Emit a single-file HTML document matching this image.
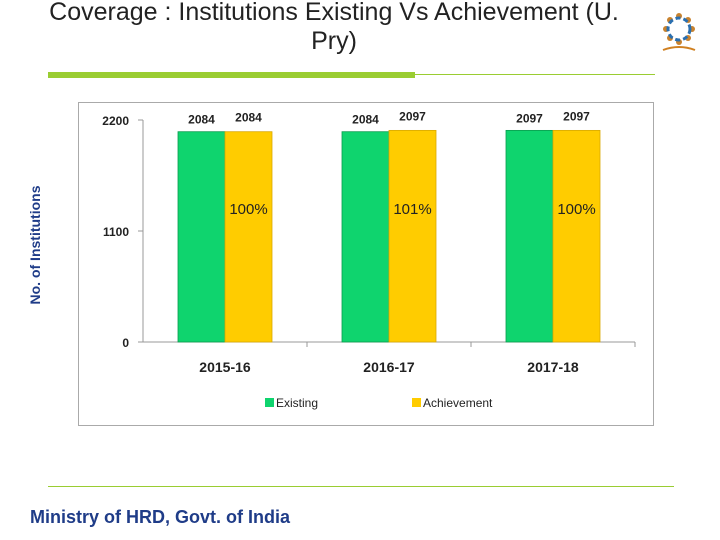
<!DOCTYPE html>
<html><head><meta charset="utf-8"><style>
body{margin:0;width:720px;height:540px;background:#fff;overflow:hidden;font-family:"Liberation Sans",sans-serif;position:relative}
.t{position:absolute;left:0;top:0;width:720px;text-align:center;font-size:25px;color:#222;line-height:29px}
</style></head><body>
<div class="t" style="left:-26px;top:-2px">Coverage : Institutions Existing Vs Achievement (U.<br>Pry)</div>
<div style="position:absolute;left:48px;top:72px;width:367px;height:6px;background:#9acd32"></div>
<div style="position:absolute;left:415px;top:74px;width:240px;height:1px;background:#9acd32"></div>
<svg style="position:absolute;left:655px;top:10px" width="50" height="50" viewBox="0 0 50 50">
<g fill="#c8822e"><circle cx="24" cy="6" r="3"/><circle cx="33" cy="10" r="3"/><circle cx="37" cy="19" r="3"/><circle cx="33" cy="28" r="3"/><circle cx="24" cy="32" r="3"/><circle cx="15" cy="28" r="3"/><circle cx="11" cy="19" r="3"/><circle cx="15" cy="10" r="3"/></g>
<circle cx="24" cy="19" r="11" fill="none" stroke="#2a6fb0" stroke-width="3" stroke-dasharray="5 3"/>
<path d="M8 40 Q24 34 40 40" stroke="#d08020" stroke-width="2" fill="none"/></svg>
<div style="position:absolute;left:35px;top:245px;transform:translate(-50%,-50%) rotate(-90deg);font-size:14px;font-weight:bold;color:#1f3c88;white-space:nowrap">No. of Institutions</div>
<svg width="720" height="540" style="position:absolute;left:0;top:0" id="c"></svg>
<div style="position:absolute;left:48px;top:486px;width:626px;height:1px;background:#9acd32"></div>
<div style="position:absolute;left:30px;top:507px;font-size:18px;font-weight:bold;color:#1f3c88">Ministry of HRD, Govt. of India</div>
<script>
const categories=["2015-16","2016-17","2017-18"];
const existing=[2084,2084,2097];
const achievement=[2084,2097,2097];
const percentLabels=["100%","101%","100%"];
const yTicks=[0,1100,2200];
const svg=document.getElementById('c');
const NS='http://www.w3.org/2000/svg';
function mk(t,a,p){const e=document.createElementNS(NS,t);for(const k in a)e.setAttribute(k,a[k]);(p||svg).appendChild(e);return e;}
const x0=143,x1=635,y0=342,yTop=120,yMax=2200;
const y=v=>y0-(v/yMax)*(y0-yTop);
const gw=(x1-x0)/categories.length;
const gx=i=>x0+gw*i+gw/2;
const bw=47;
const F='"Liberation Sans",sans-serif';
let fr=mk('rect',{x:78.5,y:102.5,width:575,height:323,fill:'#fff',stroke:'#aaa'});

let ax=mk('line',{x1:x0,y1:yTop,x2:x0,y2:y0,stroke:'#999'});

let bx=mk('line',{x1:x0,y1:y0,x2:x1,y2:y0,stroke:'#999'});

yTicks.forEach(v=>{
 mk('line',{x1:x0-5,y1:y(v),x2:x0,y2:y(v),stroke:'#999'});
 const t=mk('text',{x:x0-14,y:y(v)+5,'text-anchor':'end','font-size':12,'font-weight':'bold','font-family':F,fill:'#222'});
 t.textContent=v;
 
});
for(let i=1;i<=categories.length;i++)mk('line',{x1:x0+gw*i,y1:y0,x2:x0+gw*i,y2:y0+5,stroke:'#999'});
categories.forEach((c,i)=>{
 const cx=gx(i);
 const g=mk('rect',{x:cx-bw,y:y(existing[i]),width:bw,height:y0-y(existing[i]),fill:'#0fd46e',stroke:'#0a9c4e','stroke-width':0.8});
 
 const a=mk('rect',{x:cx,y:y(achievement[i]),width:bw,height:y0-y(achievement[i]),fill:'#ffcc00',stroke:'#d9a800','stroke-width':0.8});
 
 let t=mk('text',{x:cx-bw/2,y:y(existing[i])-8,'text-anchor':'middle','font-size':12,'font-weight':'bold','font-family':F,fill:'#222'});t.textContent=existing[i];
 
 t=mk('text',{x:cx+bw/2,y:y(achievement[i])-10,'text-anchor':'middle','font-size':12,'font-weight':'bold','font-family':F,fill:'#222'});t.textContent=achievement[i];
 
 t=mk('text',{x:cx+bw/2,y:214,'text-anchor':'middle','font-size':15,'font-family':F,fill:'#222'});t.textContent=percentLabels[i];
 
 t=mk('text',{x:cx,y:372,'text-anchor':'middle','font-size':14,'font-weight':'bold','font-family':F,fill:'#222'});t.textContent=c;
 
});
[['Existing','#0fd46e',265,'legend-existing'],['Achievement','#ffcc00',412,'legend-achievement']].forEach(l=>{
 const r=mk('rect',{x:l[2],y:398,width:9,height:9,fill:l[1]});
 
 const t=mk('text',{x:l[2]+11,y:407,'font-size':12,'font-family':F,fill:'#222'});t.textContent=l[0];
 
});
</script>
</body></html>
